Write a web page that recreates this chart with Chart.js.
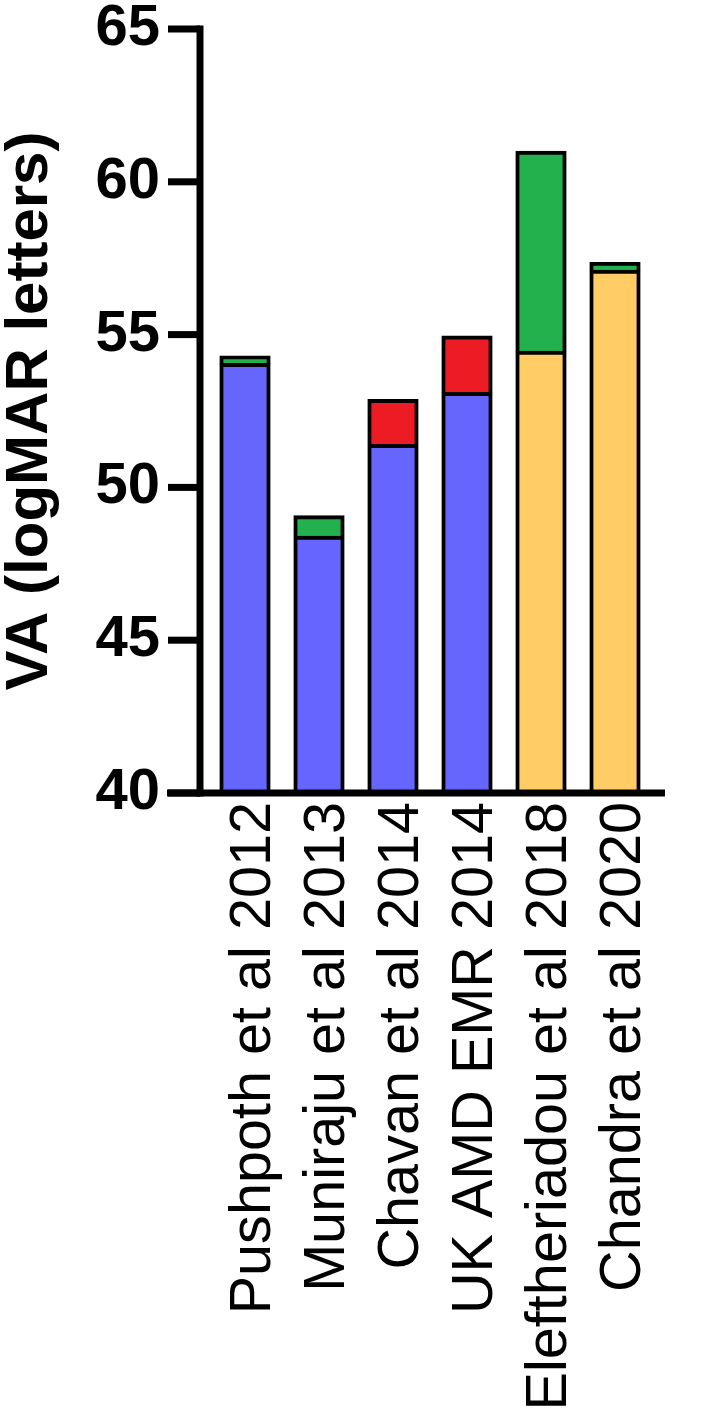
<!DOCTYPE html>
<html>
<head>
<meta charset="utf-8">
<script src="https://cdn.jsdelivr.net/npm/chart.js@4/dist/chart.umd.min.js"></script>
<style>
  html, body { margin: 0; padding: 0; background: #fff; }
</style>
</head>
<body>
<canvas id="grafico" width="708" height="1421"></canvas>
<script>
// Dados
const studies = ['Pushpoth et al 2012', 'Muniraju et al 2013', 'Chavan et al 2014',
                 'UK AMD EMR 2014', 'Eleftheriadou et al 2018', 'Chandra et al 2020'];
const baseVA = [54.05, 48.4, 51.4, 53.1, 54.45, 57.1];   // parte inferior de cada barra
const gainVA = [0.25, 0.67, null, null, 6.55, 0.26];     // segmento verde (acima da base)
const lossVA = [null, null, 1.47, 1.85, null, null];     // segmento vermelho (acima da base)
const baseColours = ['#6666FF', '#6666FF', '#6666FF', '#6666FF', '#FFCC66', '#FFCC66'];
const yTicks = [40, 45, 50, 55, 60, 65];                 // marcas do eixo y

const fontFamily = '"Liberation Sans", Arial, Helvetica, sans-serif';
const ctx = document.getElementById('grafico').getContext('2d');

// Desenha os eixos grossos no estilo Prism (linha do eixo, marcas e linha de base)
const axesPlugin = {
  id: 'prismAxes',
  afterDatasetsDraw(chart) {
    const { ctx, chartArea: area, scales: { y } } = chart;
    const lw = 7;                 // espessura das linhas
    const axisX = area.left - 8;  // posição do eixo y
    ctx.save();
    ctx.fillStyle = '#000';
    const yTop = y.getPixelForValue(yTicks[yTicks.length - 1]) - lw / 2;
    ctx.fillRect(axisX - lw / 2, yTop, lw, area.bottom + lw / 2 - yTop);
    yTicks.forEach(v => {
      const py = y.getPixelForValue(v);
      ctx.fillRect(area.left - 40, py - lw / 2, 32, lw);
    });
    ctx.fillRect(area.left - 41, area.bottom - lw / 2, area.right + 13 - (area.left - 41), lw);
    ctx.restore();
  }
};

new Chart(ctx, {
  type: 'bar',
  data: {
    labels: studies,
    datasets: [
      { label: 'Baseline', data: baseVA, backgroundColor: baseColours, base: 40 },
      { label: 'Gain', data: gainVA, backgroundColor: '#22B14C' },
      { label: 'Loss', data: lossVA, backgroundColor: '#ED1C24' }
    ]
  },
  options: {
    responsive: false,
    animation: false,
    layout: { padding: { top: 29, right: 56, left: 0, bottom: 0 } },
    datasets: {
      bar: {
        categoryPercentage: 1, barPercentage: 0.676,
        borderColor: '#000', borderWidth: 4, inflateAmount: 0.6
      }
    },
    plugins: { legend: { display: false }, tooltip: { enabled: false } },
    scales: {
      x: {
        stacked: true,
        grid: { display: false, drawTicks: false },
        border: { display: false },
        ticks: {
          autoSkip: false, maxRotation: 90, minRotation: 90, padding: 9, labelOffset: 9,
          color: '#000', font: { family: fontFamily, size: 57.6 }
        },
        afterFit: s => { s.height = 628; s.paddingLeft = 0; s.paddingRight = 0; }
      },
      y: {
        stacked: true,
        min: 40,
        max: 65,
        afterBuildTicks: s => { s.ticks = yTicks.map(v => ({ value: v })); },
        grid: { display: false, drawTicks: false },
        border: { display: false },
        ticks: {
          padding: 48, color: '#000',
          font: { family: fontFamily, size: 58, weight: 'bold', lineHeight: 1 }
        },
        title: {
          display: true, text: 'VA (logMAR letters)', color: '#000', padding: 0,
          font: { family: fontFamily, size: 60, weight: 'bold', lineHeight: 1 }
        },
        afterFit: s => { s.width = 208; s.paddingTop = 0; s.paddingBottom = 0; }
      }
    }
  },
  plugins: [axesPlugin]
});
</script>
</body>
</html>
